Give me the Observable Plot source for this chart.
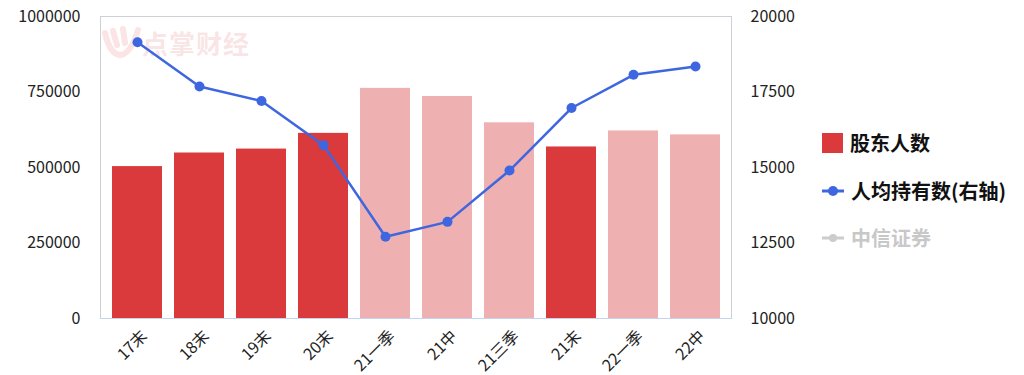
<!DOCTYPE html>
<html><head><meta charset="utf-8">
<script src="https://cdn.jsdelivr.net/npm/d3@7"></script>
<script src="https://cdn.jsdelivr.net/npm/@observablehq/plot@0.6"></script>
<style>
body{margin:0;background:#fff;font-family:"Noto Sans CJK SC","Noto Sans",sans-serif;}
#wrap{position:relative;width:1024px;height:375px;}
#wrap > svg{position:absolute;left:0;top:0;}
.leg{position:absolute;left:822px;font-weight:bold;font-size:20px;display:flex;align-items:center;white-space:nowrap;}
.wm{position:absolute;left:100px;top:24px;font-size:26px;font-weight:bold;color:rgba(228,120,120,0.2);letter-spacing:1px;display:flex;align-items:center;}
</style></head>
<body><div id="wrap"></div>
<script>
const categories = ["17末","18末","19末","20末","21一季","21中","21三季","21末","22一季","22中"];
const holders = [503000,548000,561000,613000,762000,735000,648000,568000,621000,608000];
const isAnnual = [true,true,true,true,false,false,false,true,false,false];
const perHolder = [19150,17680,17200,15740,12705,13200,14900,16970,18070,18345];
const leftTicks = [0,250000,500000,750000,1000000];
const rightTicks = [10000,12500,15000,17500,20000];

const data = categories.map((c,i)=>({c, h:holders[i], a:isAnnual[i], p:perHolder[i]}));
const W=1024,H=375,mL=100,mR=293,mT=16,mB=57;
const font='"Noto Sans CJK SC","Noto Sans",sans-serif';
const common = {width:W,height:H,marginLeft:mL,marginRight:mR,marginTop:mT,marginBottom:mB,
  style:{fontFamily:font,background:"transparent",overflow:"visible"}};
const xs = {type:"band",domain:categories,padding:0.2,range:[94.7,736.3]};

const p1 = Plot.plot({...common,
  x:{...xs},
  y:{domain:[0,1000000]},
  marks:[
    Plot.barY(data,{x:"c",y:"h",fill:d=>d.a?"#DB3A3C":"#EFB0B1"}),
    Plot.frame({stroke:"#cfcfd6"}),
    Plot.ruleY([0],{stroke:"#c5d3ee"}),
    Plot.axisY({ticks:leftTicks,tickFormat:d=>String(d),tickSize:0,tickPadding:20,fontSize:16,fill:"#222",label:null}),
    Plot.axisX({tickSize:0,tickRotate:-45,fontSize:16,fill:"#222",tickPadding:15,dx:7,label:null})
  ]});
const p2 = Plot.plot({...common,
  x:{...xs,axis:null},
  y:{domain:[10000,20000],axis:null},
  marks:[
    Plot.lineY(data,{x:"c",y:"p",stroke:"#3E66E0",strokeWidth:2.5}),
    Plot.dot(data,{x:"c",y:"p",fill:"#3E66E0",r:5}),
    Plot.axisY({anchor:"right",ticks:rightTicks,tickFormat:d=>String(d),tickSize:0,tickPadding:19,fontSize:16,fill:"#222",label:null})
  ]});
const wrap=document.getElementById("wrap");
const wm=document.createElement("div");wm.className="wm";
wm.innerHTML='<svg width="42" height="36" style="margin-right:0px"><path d="M5 8 Q10 30 21 30 Q31 28 38 5 M13 6 L17 20 M23 4 L25 18" stroke="rgba(228,120,120,0.2)" stroke-width="6" fill="none" stroke-linecap="round"/></svg><span>点掌财经</span>';
wrap.appendChild(wm);
wrap.appendChild(p1);wrap.appendChild(p2);
const legs=[
 {t:"股东人数",y:128,sym:'<span style="display:inline-block;width:21px;height:20px;background:#DB3A3C;margin-right:7px"></span>',c:"#111"},
 {t:"人均持有数(右轴)",y:176,sym:'<svg width="28" height="20" style="margin-right:1px"><line x1="0" y1="10" x2="22" y2="10" stroke="#3E66E0" stroke-width="3"/><circle cx="11" cy="10" r="5" fill="#3E66E0"/></svg>',c:"#111"},
 {t:"中信证券",y:223,sym:'<svg width="28" height="20" style="margin-right:1px"><line x1="0" y1="10" x2="22" y2="10" stroke="#ccc" stroke-width="3"/><circle cx="11" cy="10" r="4" fill="#ccc"/></svg>',c:"#c8c8c8"}
];
for(const l of legs){const d=document.createElement("div");d.className="leg";d.style.top=l.y+"px";d.style.color=l.c;d.innerHTML=l.sym+"<span>"+l.t+"</span>";wrap.appendChild(d);}
</script></body></html>
